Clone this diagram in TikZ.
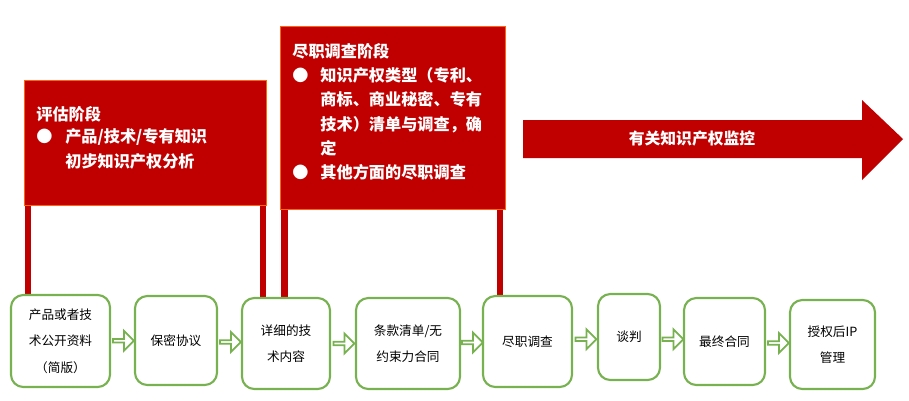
\documentclass[tikz,border=0pt]{standalone}
\usepackage{fontspec}
\setmainfont{Noto Sans CJK SC}
\usetikzlibrary{shapes.arrows,calc}
\definecolor{dred}{HTML}{C00000}
\definecolor{gr}{HTML}{77B150}
\begin{document}
\begin{tikzpicture}[x=0.02cm,y=-0.02cm,
 stepbox/.style={draw=gr,line width=1.2pt,rounded corners=7pt,fill=white,align=center,font=\fontsize{7.2}{15}\selectfont},
 post/.style={fill=dred},
 sign/.style={fill=dred,draw=orange!80!red,line width=0.4pt},
 harrow/.style={single arrow,draw=gr,line width=1pt,fill=white,minimum height=0.42cm,minimum width=0.4cm,single arrow head extend=0.08cm,inner sep=0pt}]
\useasboundingbox (0,0) rectangle (909,400);
% posts
\fill[post] (25,205) rectangle (31,296);
\fill[post] (260,205) rectangle (266,299);
\fill[post] (281,209) rectangle (288,297);
\fill[post] (497,209) rectangle (503,297);
% signs
\filldraw[sign] (24,80) rectangle (266,205);
\filldraw[sign] (280,26) rectangle (505,209);
\node[anchor=north west,text=white,font=\fontsize{9.2}{13.8}\selectfont\bfseries,align=left,inner sep=0pt] (s1) at (36,106)
 {评估阶段\\[-1pt]\makebox[16.5pt][l]{●}产品/技术/专有知识\\\hspace*{16.5pt}初步知识产权分析};
\node[anchor=north west,text=white,font=\fontsize{9.2}{13.8}\selectfont\bfseries,align=left,inner sep=0pt] (s2) at (292,43)
 {尽职调查阶段\\\makebox[16pt][l]{●}知识产权类型（专利、\\\hspace*{16pt}商标、商业秘密、专有\\\hspace*{16pt}技术）清单与调查，确\\\hspace*{16pt}定\\\makebox[16pt][l]{●}其他方面的尽职调查};
% big arrow
\fill[dred] (523,120) -- (862,120) -- (862,100) -- (903,139) -- (862,180) -- (862,158) -- (523,158) -- cycle;
\node[text=white,font=\fontsize{9}{11}\selectfont\bfseries] (mon) at (692,139) {有关知识产权监控};
% boxes
\node[stepbox,minimum width=99*0.02cm,minimum height=92*0.02cm] (b1) at (60.5,341) {产品或者技\\术公开资料\\（简版）};
\node[stepbox,minimum width=82*0.02cm,minimum height=89*0.02cm] (b2) at (176,340.5) {保密协议};
\node[stepbox,minimum width=88*0.02cm,minimum height=91*0.02cm] (b3) at (286,343.5) {详细的技\\术内容};
\node[stepbox,minimum width=104*0.02cm,minimum height=91*0.02cm] (b4) at (408,343.5) {条款清单/无\\约束力合同};
\node[stepbox,minimum width=89*0.02cm,minimum height=91*0.02cm] (b5) at (527.5,341.5) {尽职调查};
\node[stepbox,minimum width=62*0.02cm,minimum height=86*0.02cm] (b6) at (629,337) {谈判};
\node[stepbox,minimum width=81*0.02cm,minimum height=87*0.02cm] (b7) at (724.5,341.5) {最终合同};
\node[stepbox,minimum width=85*0.02cm,minimum height=89*0.02cm] (b8) at (832.5,344.5) {授权后IP\\管理};
\foreach \a/\b in {b1/b2,b2/b3,b3/b4,b4/b5,b5/b6,b6/b7,b7/b8}
 \node[harrow] at ($(\a.east)!0.5!(\b.west)$) {};
\end{tikzpicture}
\end{document}
